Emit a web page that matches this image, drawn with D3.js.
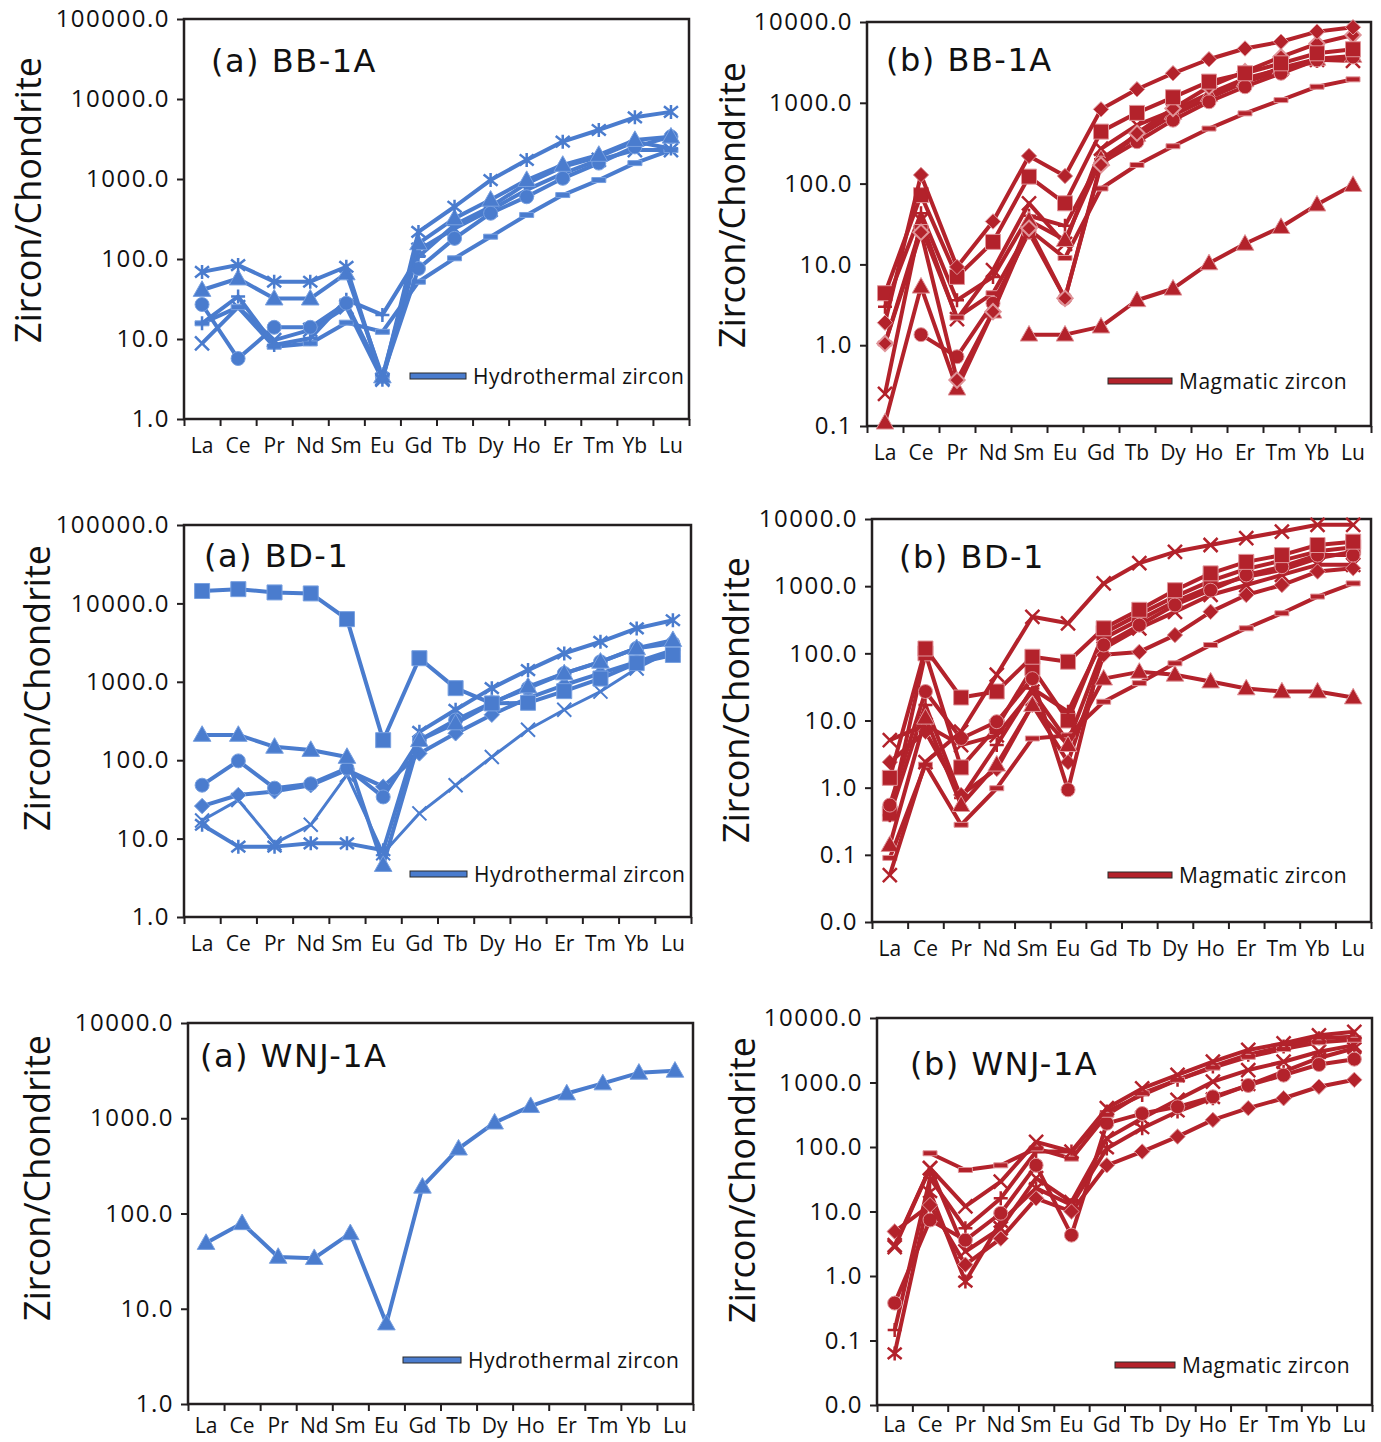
<!DOCTYPE html>
<html>
<head>
<meta charset="utf-8">
<script src="https://cdn.jsdelivr.net/npm/d3@7"></script>
<style>
  body { margin: 0; background: #fff; }
  svg { display: block; }
  text { font-family: "Open Sans", sans-serif; fill: #111; }
</style>
</head>
<body>
<svg id="chart" width="1381" height="1442"></svg>
<script>
// REE order on the x axis
const elements = ["La","Ce","Pr","Nd","Sm","Eu","Gd","Tb","Dy","Ho","Er","Tm","Yb","Lu"];

// (a) BB-1A, hydrothermal zircon
const bb1aHydro = [
  [69,84,52,52,80,3.1,218,450,970,1730,2930,4100,5900,6900],
  [41,57,32,32,66,3.4,157,322,550,970,1500,2000,3070,3380],
  [27,5.7,14,14,28,3.4,76,181,373,600,1020,1580,2520,3380],
  [15.7,34,8.4,10.2,31,20,107,267,450,880,1420,1900,2930,2400],
  [15.7,25,8.0,8.8,16,12.3,52,102,190,355,630,970,1580,2300],
  [8.8,25,9.7,13,25,3.1,130,240,410,730,1170,1730,2300,2300]
];
const bb1aHydroMarkers = ["asterisk","triangle","circle","plus","dash","x"];

// (b) BB-1A, magmatic zircon
const bb1aMag = [
  [1.9,128,9.3,34,220,124,830,1470,2320,3460,4700,5700,7600,8600],
  [4.4,72,7.0,19,122,57,440,750,1170,1830,2320,3080,4100,4600],
  [1.05,25,0.37,2.6,28,3.8,170,420,850,1580,2430,3700,5400,6900],
  [null,1.35,0.72,3.3,25,3.8,180,330,610,1030,1580,2320,3390,3700],
  [0.11,5.3,0.29,2.6,35,20,200,400,750,1250,1900,2700,3500,3800],
  [null,null,null,null,1.35,1.35,1.7,3.6,5.0,10.3,18,29,55,96],
  [1.05,29,2.2,4.4,27,12,87,170,290,480,740,1080,1580,1950],
  [0.25,35,2.1,8.5,57,18,270,530,800,1300,2000,2600,3400,3300],
  [3.0,43,3.6,7,40,30,200,380,700,1150,1800,2500,3300,3700]
];
const bb1aMagMarkers = ["diamond","square","odiamond","circle","triangle","triangle","dash","x","plus"];

// (a) BD-1, hydrothermal zircon
const bd1Hydro = [
  [14400,15200,13800,13400,6300,180,2000,830,530,540,760,1100,1730,2200],
  [210,210,148,135,110,4.6,180,295,530,870,1280,1800,2680,3400],
  [48,98,44,50,79,34,180,325,540,830,1280,1800,2680,3100],
  [26,36,40,48,75,46,122,220,380,620,910,1280,1800,2540],
  [15,7.9,7.9,8.7,8.7,7.1,230,440,830,1410,2300,3240,4800,6100],
  [17,31,8.7,15,65,6.5,21,48,110,245,440,750,1480,2540]
];
const bd1HydroMarkers = ["square","triangle","circle","diamond","asterisk","x"];

// (b) BD-1, magmatic zircon
const bd1Mag = [
  [0.05,2.4,6.8,48,350,280,1100,2200,3250,4100,5200,6500,8200,8200],
  [0.14,11,0.55,2.2,17,4.3,42,53,48,38,30,27,27,22],
  [0.09,2.2,0.28,0.98,5.4,6,19,36,71,133,236,395,700,1100],
  [1.4,118,22,27,89,75,236,445,870,1550,2300,2900,4100,4600],
  [0.55,27,5.4,9.6,42,0.93,133,263,525,870,1470,1950,2900,2900],
  [2.4,6.8,0.78,1.9,17,2.4,95,105,187,415,740,1040,1650,1850],
  [5.1,8.6,4.3,6,27,4.8,118,236,415,740,1040,1470,2080,2080],
  [0.39,17,0.7,4.3,30,13.5,167,315,590,980,1380,1740,2600,3250],
  [0.41,100,2.0,8,60,10,200,380,700,1200,1800,2400,3300,3800]
];
const bd1MagMarkers = ["x","triangle","dash","square","circle","diamond","x","plus","square"];

// (a) WNJ-1A, hydrothermal zircon
const wnj1aHydro = [
  [49,79,35,34,62,7.0,191,480,900,1340,1820,2320,3000,3150]
];
const wnj1aHydroMarkers = ["triangle"];

// (b) WNJ-1A, magmatic zircon
const wnj1aMag = [
  [2.8,47,12,29,120,85,400,810,1310,2100,3200,4050,5400,6100],
  [null,80,44,52,95,66,316,680,1100,1700,2500,3300,4200,4600],
  [4.9,12.6,1.5,3.8,16,10,52,85,145,263,400,570,860,1100],
  [0.38,7.4,3.6,9.4,52,4.3,233,330,420,600,900,1300,1900,2300],
  [0.063,20,0.82,6.9,23,12.6,95,195,355,570,910,1470,2400,3400],
  [0.145,33,5.5,16,85,85,355,640,1100,1770,2700,3600,4850,5100],
  [3.0,47,2.4,5.5,33,14,136,280,540,1030,1560,2100,3000,3800]
];
const wnj1aMagMarkers = ["x","dash","diamond","circle","asterisk","plus","x"];

const blue = "#4a7cce";
const red = "#b3222b";
const frameColor = "#231f20";

const panels = [
  {left:184, right:689, top:19, bottom:419, domain:[1,1e5], title:"(a) BB-1A", tx:211, ty:72,
   lx:28, ly:200, legX:410, legY:376, legText:"Hydrothermal zircon", textX:473, pad:19,
   color:blue, light:"#78a0e0", series:bb1aHydro, markers:bb1aHydroMarkers},
  {left:867, right:1371, top:22, bottom:426, domain:[0.1,1e4], title:"(b) BB-1A", tx:886, ty:71,
   lx:732, ly:205, legX:1108, legY:381, legText:"Magmatic zircon", textX:1179, pad:19,
   color:red, light:"#e0959a", series:bb1aMag, markers:bb1aMagMarkers},
  {left:184, right:691, top:525, bottom:917, domain:[1,1e5], title:"(a) BD-1", tx:204, ty:567,
   lx:37, ly:688, legX:410, legY:874, legText:"Hydrothermal zircon", textX:474, pad:19,
   color:blue, light:"#78a0e0", series:bd1Hydro, markers:bd1HydroMarkers},
  {left:872, right:1371, top:519, bottom:922, domain:[0.01,1e4], title:"(b) BD-1", tx:899, ty:568,
   lx:736, ly:700, legX:1108, legY:875, legText:"Magmatic zircon", textX:1179, pad:19,
   color:red, light:"#e0959a", series:bd1Mag, markers:bd1MagMarkers},
  {left:188, right:693, top:1023, bottom:1404, domain:[1,1e4], title:"(a) WNJ-1A", tx:200, ty:1067,
   lx:37, ly:1178, legX:403, legY:1360, legText:"Hydrothermal zircon", textX:468, pad:14,
   color:blue, light:"#78a0e0", series:wnj1aHydro, markers:wnj1aHydroMarkers},
  {left:877, right:1372, top:1018, bottom:1405, domain:[0.01,1e4], title:"(b) WNJ-1A", tx:910, ty:1075,
   lx:742, ly:1180, legX:1115, legY:1365, legText:"Magmatic zircon", textX:1182, pad:12,
   color:red, light:"#e0959a", series:wnj1aMag, markers:wnj1aMagMarkers}
];

const svg = d3.select("#chart");

function markerPath(type, s) {
  const h = s / 2;
  if (type == "circle") return d3.symbol(d3.symbolCircle, Math.PI * h * h)();
  if (type == "square") return `M${-h},${-h}h${s}v${s}h${-s}Z`;
  if (type == "triangle") return `M0,${-h*1.15}L${h*1.1},${h*0.8}L${-h*1.1},${h*0.8}Z`;
  if (type == "diamond" || type == "odiamond") return `M0,${-h*1.1}L${h*1.1},0L0,${h*1.1}L${-h*1.1},0Z`;
  if (type == "x") return `M${-h},${-h}L${h},${h}M${-h},${h}L${h},${-h}`;
  if (type == "plus") return `M${-h},0H${h}M0,${-h}V${h}`;
  if (type == "asterisk") return `M${-h},${-h*0.8}L${h},${h*0.8}M${-h},${h*0.8}L${h},${-h*0.8}M0,${-h}V${h}`;
  if (type == "dash") return `M${-h},-2.5h${s}v5h${-s}Z`;
}
const strokeOnly = ["x","plus","asterisk"];

function drawPanel(p) {
  const g = svg.append("g");
  const x = d3.scaleBand().domain(elements).range([p.left, p.right]);
  const xTicks = d3.scaleLinear().domain([0, elements.length]).range([p.left, p.right]);
  const y = d3.scaleLog().domain(p.domain).range([p.bottom, p.top]);
  const decades = d3.range(Math.log10(p.domain[0]), Math.log10(p.domain[1]) + 0.5).map(e => Math.pow(10, e));
  const isBlue = p.color == blue;

  // y axis
  const yAxis = d3.axisLeft(y).tickValues(decades).tickFormat(d3.format(".1f")).tickSize(7).tickPadding(7);
  const ya = g.append("g").attr("transform", `translate(${p.left},0)`).call(yAxis);
  ya.select(".domain").remove();
  ya.selectAll("line").attr("stroke", frameColor).attr("stroke-width", 2);
  ya.selectAll("text").style("font-family", "'Open Sans', sans-serif").style("font-size", "24px")
    .style("letter-spacing", "1.5px").attr("fill", "#111");

  // x tick marks at band edges, labels at band centers
  const xt = g.append("g").attr("transform", `translate(0,${p.bottom})`)
    .call(d3.axisBottom(xTicks).tickValues(d3.range(0, elements.length + 1)).tickFormat("").tickSize(7));
  xt.select(".domain").remove();
  xt.selectAll("line").attr("stroke", frameColor).attr("stroke-width", 2);
  const xl = g.append("g").attr("transform", `translate(0,${p.bottom})`)
    .call(d3.axisBottom(x).tickSize(0).tickPadding(p.pad));
  xl.select(".domain").remove();
  xl.selectAll("text").style("font-family", "'Open Sans', sans-serif").style("font-size", "21px").attr("fill", "#111");

  // frame
  g.append("rect").attr("x", p.left).attr("y", p.top)
    .attr("width", p.right - p.left).attr("height", p.bottom - p.top)
    .attr("fill", "none").attr("stroke", frameColor).attr("stroke-width", 2.5);

  // axis title
  g.append("text").attr("transform", `translate(${p.lx + 13},${p.ly}) rotate(-90)`)
    .attr("text-anchor", "middle").style("font-size", "36px").text("Zircon/Chondrite");

  // panel title
  g.append("text").attr("x", p.tx).attr("y", p.ty)
    .style("font-family", "'DejaVu Sans', sans-serif").style("font-size", "32px")
    .style("letter-spacing", "1.5px").text(p.title);

  // series
  const cx = (d, i) => x(elements[i]) + x.bandwidth() / 2;
  const line = d3.line().defined(d => d != null).x(cx).y(d => y(d));
  const lw = 4;
  const order = p.series.map((s, i) => i).reverse();
  order.forEach(si => {
    const vals = p.series[si];
    const type = p.markers[si];
    const thin = isBlue && si == 5 && p.series == bd1Hydro;
    g.append("path").datum(vals).attr("d", line)
      .attr("fill", "none").attr("stroke", p.color)
      .attr("stroke-width", thin ? 3 : lw).attr("stroke-linejoin", "round");
    const ms = type == "triangle" ? 16 : (type == "square" ? 15 : 14);
    g.selectAll(null).data(vals.map((v, i) => [v, i]).filter(d => d[0] != null)).enter()
      .append("path")
      .attr("transform", d => `translate(${cx(d[0], d[1])},${y(d[0])})`)
      .attr("d", markerPath(type, ms))
      .attr("fill", strokeOnly.includes(type) ? "none" : p.color)
      .attr("stroke", strokeOnly.includes(type) ? p.color : p.light)
      .attr("stroke-width", strokeOnly.includes(type) ? (thin ? 2 : 2.5) : (type == "odiamond" ? 2 : 1));
  });

  // legend
  g.append("rect").attr("x", p.legX).attr("y", p.legY - 3)
    .attr("width", p.textX - 7 - p.legX).attr("height", 6)
    .attr("fill", p.color).attr("stroke", "#2a2a2a").attr("stroke-width", 1);
  g.append("text").attr("x", p.textX).attr("y", p.legY + 8)
    .style("font-size", "21px").style("letter-spacing", "0.5px").text(p.legText);
}

panels.forEach(drawPanel);
</script>
</body>
</html>
